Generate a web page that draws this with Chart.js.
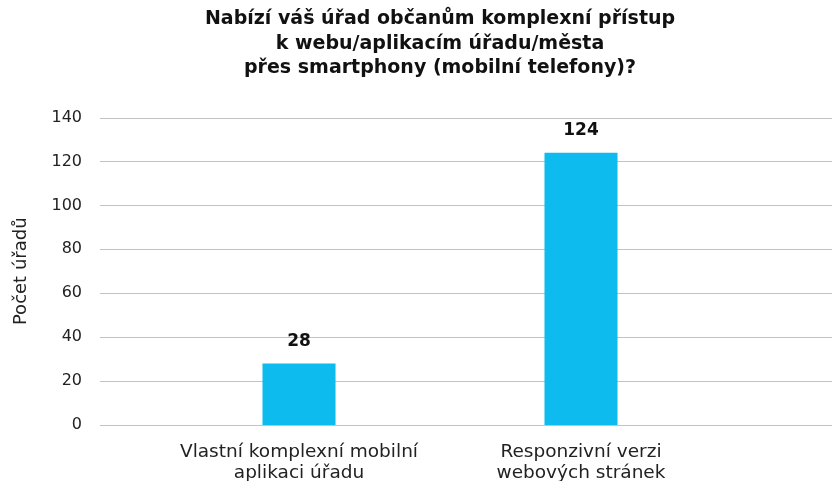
<!DOCTYPE html>
<html>
<head>
<meta charset="utf-8">
<script src="https://cdn.jsdelivr.net/npm/chart.js@4"></script>
<style>
  html,body{margin:0;padding:0;background:#fff;}
  #wrap{width:832px;height:481px;}
</style>
</head>
<body>
<div id="wrap"><canvas id="chart-urady" width="832" height="481"></canvas></div>
<script>
/* data */
var categories=[['Vlastní komplexní mobilní','aplikaci úřadu'],['Responzivní verzi','webových stránek']];
var values=[28,124];
var yTicks=[0,20,40,60,80,100,120,140];
var titleLines=['Nabízí váš úřad občanům komplexní přístup','k webu/aplikacím úřadu/města','přes smartphony (mobilní telefony)?'];
var yTitle='Počet úřadů';

var FONT='"DejaVu Sans", sans-serif';

// gridlines run across the whole plot width, wider than the category area
var wideGrid={id:'wideGrid',beforeDatasetsDraw:function(c){
  var y=c.scales.y,ctx=c.ctx;ctx.save();ctx.strokeStyle='#c3c3c3';ctx.lineWidth=1;
  yTicks.forEach(function(v){var py=Math.round(y.getPixelForValue(v))+0.5;ctx.beginPath();ctx.moveTo(100,py);ctx.lineTo(832,py);ctx.stroke();});
  ctx.restore();
}};
var barLabels={id:'barLabels',afterDatasetsDraw:function(c){
  var ctx=c.ctx,meta=c.getDatasetMeta(0);ctx.save();
  ctx.font='bold 17px '+FONT;ctx.fillStyle='#111';ctx.textAlign='center';ctx.textBaseline='middle';
  meta.data.forEach(function(b,i){ctx.fillText(values[i],b.x,b.y-22);});
  ctx.restore();
}};

new Chart(document.getElementById('chart-urady'),{
  type:'bar',
  data:{labels:categories,datasets:[{data:values,backgroundColor:'#0dbbee',borderWidth:0,categoryPercentage:1,barPercentage:0.259}]},
  plugins:[wideGrid,barLabels],
  options:{
    responsive:false,animation:false,
    layout:{padding:{left:0,right:110,top:0,bottom:0}},
    plugins:{
      legend:{display:false},tooltip:{enabled:false},
      title:{display:true,text:titleLines,fullSize:false,color:'#111',font:{family:FONT,size:19,weight:'bold',lineHeight:1.29},padding:{top:7,bottom:37}}
    },
    scales:{
      x:{grid:{display:false,drawTicks:false},border:{display:false},
         ticks:{color:'#222',font:{family:FONT,size:18.5,lineHeight:1.16},padding:16,maxRotation:0},
         afterFit:function(s){s.height=56;}},
      y:{min:0,max:140,grid:{display:false,drawTicks:false},border:{display:false},
         afterBuildTicks:function(s){s.ticks=yTicks.map(function(v){return {value:v};});},
         ticks:{color:'#222',font:{family:FONT,size:16},padding:76},
         title:{display:true,text:yTitle,color:'#222',font:{family:FONT,size:18},padding:{top:11,bottom:0}},
         afterFit:function(s){s.width=158;s.paddingTop=10;s.paddingBottom=10;}}
    }
  }
});
</script>
</body>
</html>
